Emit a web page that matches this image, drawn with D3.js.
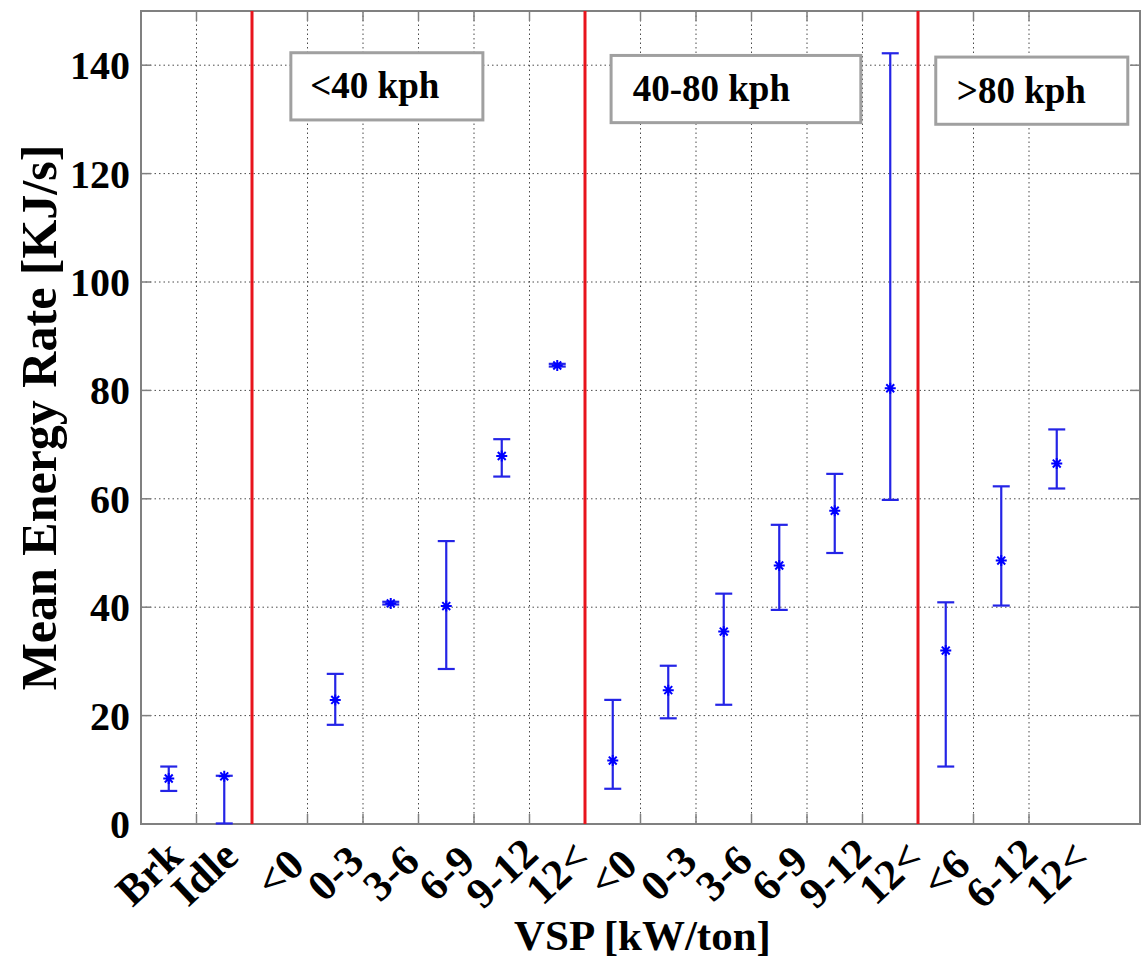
<!DOCTYPE html>
<html>
<head>
<meta charset="utf-8">
<script src="https://cdn.jsdelivr.net/npm/d3@7"></script>
</head>
<body style="margin:0;padding:0;background:#fff;">
<svg id="chart" width="1142" height="961" style="display:block"></svg>
<script>
// ---- data ----
const categories = ["Brk","Idle","<0","0-3","3-6","6-9","9-12","12<","<0","0-3","3-6","6-9","9-12","12<","<6","6-12","12<"];
const meanValues = [8.4, 8.8, null, 22.9, 40.7, 40.2, 67.9, 84.6, 11.7, 24.7, 35.5, 47.7, 57.8, 80.4, 32.0, 48.6, 66.5];
const lowerValues = [6.1, 0.1, null, 18.3, 40.5, 28.6, 64.1, 84.4, 6.5, 19.5, 22.0, 39.5, 50.0, 59.8, 10.6, 40.3, 61.9];
const upperValues = [10.6, 8.9, null, 27.7, 41.0, 52.2, 71.0, 84.9, 22.9, 29.2, 42.5, 55.2, 64.6, 142.2, 40.9, 62.3, 72.8];
const speedLabels = ["<40 kph", "40-80 kph", ">80 kph"];
const speedBoundaries = [2, 8, 14];
const yTicks = [0, 20, 40, 60, 80, 100, 120, 140];
const xTitle = "VSP [kW/ton]";
const yTitle = "Mean Energy Rate [KJ/s]";

// ---- layout ----
const svg = d3.select("#chart");
const FONT = "'Liberation Serif', 'Times New Roman', serif";
const L = 141, R = 1140, T = 11, B = 824;
const x = d3.scaleLinear().domain([0, 18]).range([L, R]);
const y = d3.scaleLinear().domain([0, 150]).range([B, T]);
const frameColor = "#808080";
const tickLen = 10;

function txt(sel) {
  return sel.style("font-family", FONT).style("font-weight", "bold").style("fill", "#000");
}

// grid
const gx = d3.range(1, 17);
svg.append("g").selectAll("line").data(gx).join("line")
  .attr("x1", d => x(d)).attr("x2", d => x(d)).attr("y1", T).attr("y2", B)
  .attr("stroke", "#4a4a4a").attr("stroke-width", 1).attr("stroke-dasharray", "1.5,3");
svg.append("g").selectAll("line").data(yTicks.filter(d => d > 0)).join("line")
  .attr("x1", L).attr("x2", R).attr("y1", d => y(d)).attr("y2", d => y(d))
  .attr("stroke", "#4a4a4a").attr("stroke-width", 1).attr("stroke-dasharray", "1.5,3");

// ticks (inside, all four sides)
const tk = svg.append("g").attr("stroke", frameColor).attr("stroke-width", 1.5);
gx.forEach(d => {
  tk.append("line").attr("x1", x(d)).attr("x2", x(d)).attr("y1", B).attr("y2", B - tickLen);
  tk.append("line").attr("x1", x(d)).attr("x2", x(d)).attr("y1", T).attr("y2", T + tickLen);
});
yTicks.forEach(d => {
  tk.append("line").attr("x1", L).attr("x2", L + tickLen).attr("y1", y(d)).attr("y2", y(d));
  tk.append("line").attr("x1", R).attr("x2", R - tickLen).attr("y1", y(d)).attr("y2", y(d));
});

// frame
svg.append("rect").attr("x", L).attr("y", T).attr("width", R - L).attr("height", B - T)
  .attr("fill", "none").attr("stroke", frameColor).attr("stroke-width", 2);

// red speed boundaries
svg.append("g").selectAll("line").data(speedBoundaries).join("line")
  .attr("x1", d => x(d)).attr("x2", d => x(d)).attr("y1", T).attr("y2", B)
  .attr("stroke", "#e8141c").attr("stroke-width", 3);

// speed label boxes
const boxSpec = [
  {x0: 2.70, x1: 6.16, top: 142.3, bot: 129.9, tx: 3.05},
  {x0: 8.47, x1: 12.97, top: 141.8, bot: 129.4, tx: 8.86},
  {x0: 14.32, x1: 17.78, top: 141.5, bot: 129.1, tx: 14.70}
];
const bx = svg.append("g");
speedLabels.forEach((s, i) => {
  const b = boxSpec[i];
  bx.append("rect").attr("x", x(b.x0)).attr("y", y(b.top))
    .attr("width", x(b.x1) - x(b.x0)).attr("height", y(b.bot) - y(b.top))
    .attr("fill", "#fff").attr("stroke", "#a0a0a0").attr("stroke-width", 3);
  txt(bx.append("text")).attr("x", x(b.tx)).attr("y", (y(b.top) + y(b.bot)) / 2 + 12)
    .attr("font-size", 37).text(s);
});

// error bars
const pts = categories.map((c, i) => ({c, i, m: meanValues[i], lo: lowerValues[i], hi: upperValues[i]}))
  .filter(d => d.m !== null);
const eb = svg.append("g").attr("stroke", "#2424e6").attr("stroke-width", 2.2);
const capW = 8.5;
pts.forEach(d => {
  const cx = x(d.i + 0.5);
  eb.append("line").attr("x1", cx).attr("x2", cx).attr("y1", y(d.lo)).attr("y2", y(d.hi));
  eb.append("line").attr("x1", cx - capW).attr("x2", cx + capW).attr("y1", y(d.lo)).attr("y2", y(d.lo));
  eb.append("line").attr("x1", cx - capW).attr("x2", cx + capW).attr("y1", y(d.hi)).attr("y2", y(d.hi));
});
// asterisk markers
const r = 5.5, rd = r * 0.72;
const star = `M${-r},0L${r},0M0,${-r}L0,${r}M${-rd},${-rd}L${rd},${rd}M${-rd},${rd}L${rd},${-rd}`;
svg.append("g").selectAll("path").data(pts).join("path")
  .attr("transform", d => `translate(${x(d.i + 0.5)},${y(d.m)})`)
  .attr("d", star).attr("fill", "none").attr("stroke", "#0000ff").attr("stroke-width", 2);

// y tick labels
txt(svg.append("g").selectAll("text").data(yTicks).join("text"))
  .attr("x", 130).attr("y", d => y(d)).attr("dy", "0.35em")
  .attr("text-anchor", "end").attr("font-size", 40).text(d => d);

// x tick labels (rotated)
txt(svg.append("g").selectAll("text").data(categories).join("text"))
  .attr("transform", (d, i) => `translate(${x(i + 0.5) + (i < 2 ? -20 : 0)},873) rotate(-43)`)
  .attr("text-anchor", "middle").attr("dominant-baseline", "central")
  .attr("font-size", 43).text(d => d);

// axis titles
txt(svg.append("text")).attr("x", (L + R) / 2 + 2).attr("y", 950).attr("text-anchor", "middle")
  .attr("font-size", 43).text(xTitle);
txt(svg.append("text")).attr("transform", `translate(56,${(T + B) / 2}) rotate(-90)`)
  .attr("text-anchor", "middle").attr("font-size", 50).text(yTitle);
</script>
</body>
</html>
